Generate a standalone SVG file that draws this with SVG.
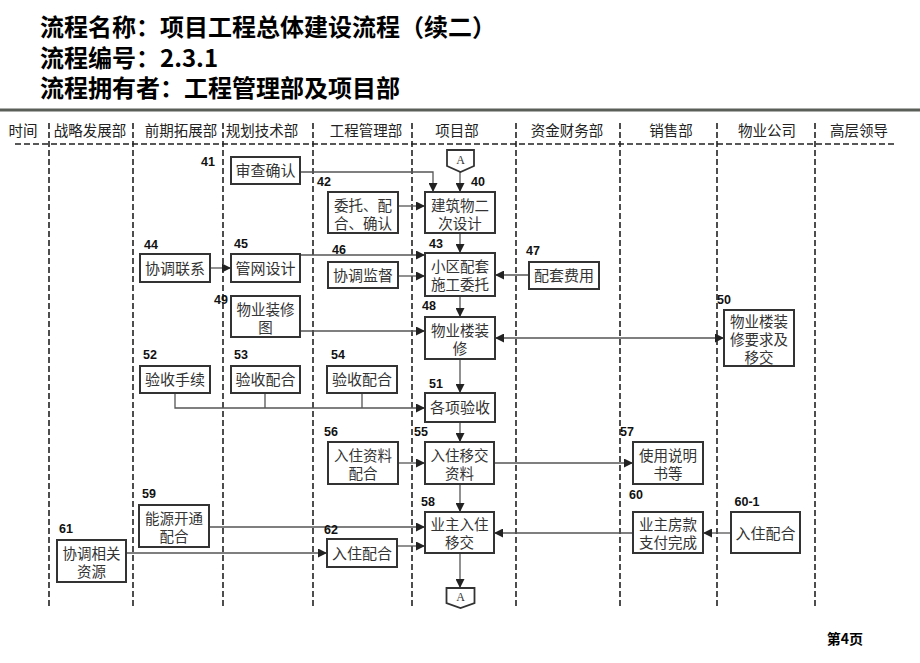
<svg xmlns="http://www.w3.org/2000/svg" width="920" height="663" viewBox="0 0 920 663">
<defs>
<style>
.title{font-family:"Noto Sans CJK SC","Liberation Sans",sans-serif;font-size:24px;font-weight:bold;fill:#000}
.hd{font-family:"Noto Sans CJK SC","Liberation Sans",sans-serif;font-size:14.5px;fill:#222;text-anchor:middle}
.lane{stroke:#222;stroke-width:1.6;stroke-dasharray:6 3;fill:none}
.box{fill:#fff;stroke:#333;stroke-width:2}
.t{font-family:"Noto Sans CJK SC","Liberation Sans",sans-serif;font-size:15px;fill:#333;text-anchor:middle}
.t2{font-family:"Noto Sans CJK SC","Liberation Sans",sans-serif;font-size:14.5px;fill:#333;text-anchor:middle}
.n{font-family:"Liberation Sans",sans-serif;font-size:12.5px;font-weight:bold;fill:#111;text-anchor:middle}
.c{fill:none;stroke:#555;stroke-width:1.3}
.a{marker-end:url(#ah)}
.off{fill:#fff;stroke:#333;stroke-width:1.8}
.ot{font-family:"Liberation Serif",serif;font-size:12px;fill:#333;text-anchor:middle}
</style>
<marker id="ah" viewBox="0 0 10 10" refX="10" refY="5" markerWidth="9" markerHeight="9" markerUnits="userSpaceOnUse" orient="auto"><path d="M0,0L10,5L0,10z" fill="#222"/></marker>
<marker id="as" viewBox="0 0 10 10" refX="0" refY="5" markerWidth="9" markerHeight="9" markerUnits="userSpaceOnUse" orient="auto"><path d="M10,0L0,5L10,10z" fill="#222"/></marker>
</defs>
<rect x="0" y="0" width="920" height="663" fill="#fff"/>
<g id="header">
<text class="title" x="40" y="36">流程名称：项目工程总体建设流程（续二）</text>
<text class="title" x="40" y="67">流程编号：2.3.1</text>
<text class="title" x="40" y="97">流程拥有者：工程管理部及项目部</text>
<rect x="0" y="108.5" width="920" height="3" fill="#5a5f58"/>
</g>
<g id="lanes">
<text class="hd" x="23" y="136">时间</text>
<text class="hd" x="90" y="136">战略发展部</text>
<text class="hd" x="181" y="136">前期拓展部</text>
<text class="hd" x="262" y="136">规划技术部</text>
<text class="hd" x="366" y="136">工程管理部</text>
<text class="hd" x="457" y="136">项目部</text>
<text class="hd" x="567" y="136">资金财务部</text>
<text class="hd" x="671" y="136">销售部</text>
<text class="hd" x="767" y="136">物业公司</text>
<text class="hd" x="859" y="136">高层领导</text>
<path class="lane" d="M15,144H896"/>
<path class="lane" d="M49,123V606M133,123V606M223,123V606M313,123V606M412,123V606M516,123V606M620,123V606M717,123V606M815,123V606"/>
</g>
<g id="connectors">
<path class="c a" d="M300,172H433V192"/>
<path class="c a" d="M460,172V192"/>
<path class="c a" d="M398,206H425"/>
<path class="c a" d="M460,233V253"/>
<path class="c a" d="M210,268H231"/>
<path class="c a" d="M300,255H425"/>
<path class="c a" d="M398,276H425"/>
<path class="c a" d="M529,275H495"/>
<path class="c a" d="M460,296V317"/>
<path class="c a" d="M300,331H425"/>
<path class="c a" d="M495,338H724" marker-start="url(#as)"/>
<path class="c a" d="M175,393V408H425"/>
<path class="c" d="M265,393V408M362,393V408"/>
<path class="c a" d="M460,359V393"/>
<path class="c a" d="M460,422V442"/>
<path class="c a" d="M398,463H425"/>
<path class="c a" d="M494,463H633"/>
<path class="c a" d="M460,484V512"/>
<path class="c a" d="M209,527H425"/>
<path class="c a" d="M126,553H327"/>
<path class="c a" d="M397,546H425"/>
<path class="c a" d="M633,533H494"/>
<path class="c a" d="M731,533H703"/>
<path class="c a" d="M460,553V588"/>
</g>
<g id="A-top"><polygon class="off" points="447,150 474,150 474,166 460.5,172 447,166"/><text class="ot" x="460.5" y="164">A</text></g>
<g id="n41"><text class="n" x="208" y="166">41</text><rect class="box" x="231" y="157" width="69" height="27"/><text class="t" x="265.5" y="176">审查确认</text></g>
<g id="n40"><text class="n" x="478" y="186">40</text><rect class="box" x="425" y="192" width="70" height="41"/><text class="t2" x="460" y="211">建筑物二<tspan x="460" dy="18">次设计</tspan></text></g>
<g id="n42"><text class="n" x="324" y="186">42</text><rect class="box" x="328" y="192" width="70" height="41"/><text class="t2" x="363" y="211">委托、配<tspan x="363" dy="18">合、确认</tspan></text></g>
<g id="n43"><text class="n" x="436" y="248">43</text><rect class="box" x="425" y="253" width="70" height="43"/><text class="t2" x="460" y="272">小区配套<tspan x="460" dy="18">施工委托</tspan></text></g>
<g id="n44"><text class="n" x="151" y="249">44</text><rect class="box" x="140" y="254" width="70" height="28"/><text class="t" x="175" y="273.5">协调联系</text></g>
<g id="n45"><text class="n" x="241" y="248">45</text><rect class="box" x="231" y="254" width="69" height="28"/><text class="t" x="265.5" y="273.5">管网设计</text></g>
<g id="n46"><text class="n" x="339" y="254">46</text><rect class="box" x="328" y="262" width="70" height="26"/><text class="t" x="363" y="280.5">协调监督</text></g>
<g id="n47"><text class="n" x="533" y="255">47</text><rect class="box" x="529" y="262" width="70" height="27"/><text class="t" x="564" y="281">配套费用</text></g>
<g id="n49"><text class="n" x="221" y="304">49</text><rect class="box" x="231" y="296" width="69" height="41"/><text class="t2" x="265.5" y="315">物业装修<tspan x="265.5" dy="18">图</tspan></text></g>
<g id="n48"><text class="n" x="429" y="310">48</text><rect class="box" x="425" y="317" width="70" height="42"/><text class="t2" x="460" y="336">物业楼装<tspan x="460" dy="18">修</tspan></text></g>
<g id="n50"><text class="n" x="724" y="304">50</text><rect class="box" x="724" y="310" width="70" height="56"/><text class="t2" x="759" y="327">物业楼装<tspan x="759" dy="18">修要求及</tspan><tspan x="759" dy="18">移交</tspan></text></g>
<g id="n52"><text class="n" x="150" y="359">52</text><rect class="box" x="140" y="366" width="70" height="27"/><text class="t" x="175" y="385">验收手续</text></g>
<g id="n53"><text class="n" x="241" y="359">53</text><rect class="box" x="231" y="366" width="69" height="27"/><text class="t" x="265.5" y="385">验收配合</text></g>
<g id="n54"><text class="n" x="338" y="359">54</text><rect class="box" x="327" y="366" width="70" height="27"/><text class="t" x="362" y="385">验收配合</text></g>
<g id="n51"><text class="n" x="436" y="388">51</text><rect class="box" x="425" y="393" width="70" height="29"/><text class="t" x="460" y="413">各项验收</text></g>
<g id="n56"><text class="n" x="331" y="436">56</text><rect class="box" x="328" y="442" width="70" height="42"/><text class="t2" x="363" y="461">入住资料<tspan x="363" dy="18">配合</tspan></text></g>
<g id="n55"><text class="n" x="421" y="436">55</text><rect class="box" x="425" y="442" width="69" height="42"/><text class="t2" x="459.5" y="461">入住移交<tspan x="459.5" dy="18">资料</tspan></text></g>
<g id="n57"><text class="n" x="627" y="436">57</text><rect class="box" x="633" y="442" width="70" height="42"/><text class="t2" x="668" y="461">使用说明<tspan x="668" dy="18">书等</tspan></text></g>
<g id="n59"><text class="n" x="149" y="498">59</text><rect class="box" x="139" y="505" width="70" height="42"/><text class="t2" x="174" y="524">能源开通<tspan x="174" dy="18">配合</tspan></text></g>
<g id="n58"><text class="n" x="428" y="506">58</text><rect class="box" x="425" y="512" width="69" height="41"/><text class="t2" x="459.5" y="530">业主入住<tspan x="459.5" dy="18">移交</tspan></text></g>
<g id="n60"><text class="n" x="636" y="499">60</text><rect class="box" x="633" y="512" width="70" height="41"/><text class="t2" x="668" y="530">业主房款<tspan x="668" dy="18">支付完成</tspan></text></g>
<g id="n60-1"><text class="n" x="747" y="506">60-1</text><rect class="box" x="731" y="512" width="69" height="41"/><text class="t" x="765.5" y="538.5">入住配合</text></g>
<g id="n61"><text class="n" x="66" y="533">61</text><rect class="box" x="57" y="540" width="69" height="42"/><text class="t2" x="91.5" y="559">协调相关<tspan x="91.5" dy="18">资源</tspan></text></g>
<g id="n62"><text class="n" x="331" y="534">62</text><rect class="box" x="327" y="539" width="70" height="28"/><text class="t" x="362" y="558.5">入住配合</text></g>
<g id="A-bottom"><polygon class="off" points="446.5,588 474.5,588 474.5,603 460.5,608 446.5,603"/><text class="ot" x="460.5" y="601">A</text></g>
<text x="845" y="644" style="font-family:'Noto Sans CJK SC','Liberation Sans',sans-serif;font-size:14px;font-weight:bold;fill:#000;text-anchor:middle">第4页</text>
</svg>
